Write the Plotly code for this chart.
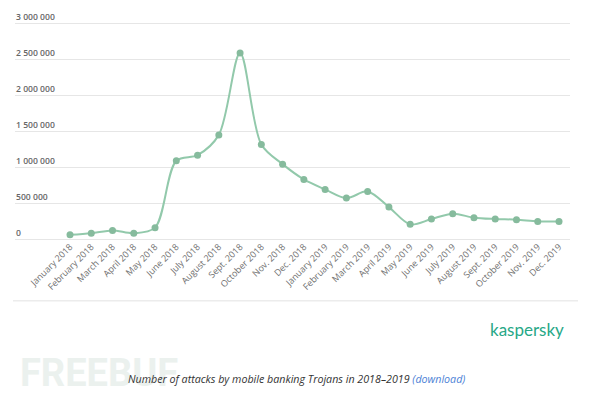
import plotly.graph_objects as go

months = ["January 2018", "February 2018", "March 2018", "April 2018", "May 2018",
          "June 2018", "July 2018", "August 2018", "Sept. 2018", "October 2018",
          "Nov. 2018", "Dec. 2018", "January 2019", "February 2019", "March 2019",
          "April 2019", "May 2019", "June 2019", "July 2019", "August 2019",
          "Sept. 2019", "October 2019", "Nov. 2019", "Dec. 2019"]
attacks = [58000, 80000, 120000, 80000, 158000,
           1088000, 1167000, 1449000, 2588000, 1315000,
           1042000, 829000, 690000, 569000, 662000,
           444000, 204000, 278000, 352000, 296000,
           278000, 269000, 245000, 245000]
y_ticks = [0, 500000, 1000000, 1500000, 2000000, 2500000, 3000000]
y_tick_text = ["0", "500 000", "1 000 000", "1 500 000", "2 000 000", "2 500 000", "3 000 000"]

W, H = 600, 398
Y_TOP = 3020000
L, R, B = 15, 30, 159
T = 22.3
pw = W - L - R
ph = H - B - T

xs = list(range(len(months)))

fig = go.Figure()
fig.add_trace(go.Scatter(
    x=xs, y=attacks, mode="lines+markers",
    line=dict(color="#92c9ab", width=2, shape="spline", smoothing=0.9),
    marker=dict(color="#86bb9d", size=7),
    hoverinfo="skip", showlegend=False,
))

def px_x(p):
    return (p - L) / pw

def px_y(p):
    return (H - B - p) / ph

annotations = []
for v, t in zip(y_ticks, y_tick_text):
    annotations.append(dict(
        x=px_x(14), xref="paper", y=v, yref="y", text=t, showarrow=False,
        xanchor="left", yanchor="middle", yshift=6,
        font=dict(family="Open Sans", size=8.6, color="#666666", weight=600),
    ))

annotations.append(dict(
    x=px_x(18), xref="paper", y=px_y(373), yref="paper", text="<b>FREEBUF</b>",
    showarrow=False, xanchor="left", yanchor="middle",
    font=dict(family="Roboto", size=38, color="#ebf1ee"),
))
annotations.append(dict(
    x=px_x(566), xref="paper", y=px_y(329), yref="paper", text="kaspersky",
    showarrow=False, xanchor="right", yanchor="middle",
    font=dict(family="Lato", size=17, color="#27a887"),
))
annotations.append(dict(
    x=px_x(296), xref="paper", y=px_y(379), yref="paper",
    text="<i>Number of attacks by mobile banking Trojans in 2018–2019 <span style='color:#4d82d6'>(download)</span></i>",
    showarrow=False, xanchor="center", yanchor="middle",
    font=dict(family="Open Sans", size=10.7, color="#333333"),
))

shapes = [dict(
    type="line", xref="paper", yref="paper",
    x0=px_x(13), x1=px_x(578), y0=px_y(300.7), y1=px_y(300.7),
    line=dict(color="#ececec", width=1.5),
)]

step = 21.26
fig.update_layout(
    width=W, height=H,
    margin=dict(l=L, r=R, t=T, b=B),
    paper_bgcolor="white", plot_bgcolor="white",
    annotations=annotations, shapes=shapes,
    xaxis=dict(
        range=[-(70 - L) / step, len(months) - 1 + 11 / step],
        tickmode="array", tickvals=xs, ticktext=months, tickangle=-45,
        tickfont=dict(family="Open Sans", size=9, color="#707070"),
        showgrid=False, zeroline=False, showline=False, ticks="",
        fixedrange=True,
    ),
    yaxis=dict(
        range=[0, Y_TOP], tickvals=y_ticks, showticklabels=False,
        showgrid=True, gridcolor="#e6e6e6", gridwidth=1,
        zeroline=True, zerolinecolor="#e6e6e6", zerolinewidth=1,
        showline=False, ticks="", fixedrange=True,
    ),
)

fig.write_html("out.html", config={"displayModeBar": False},
               post_script="document.body.style.margin='0';")
